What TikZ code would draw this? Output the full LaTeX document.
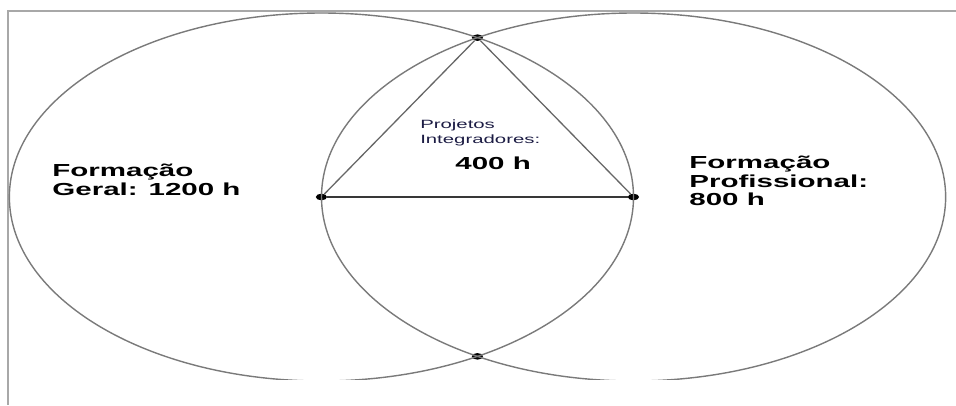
\documentclass[tikz,border=0pt]{standalone}
\usepackage{fontspec}
\setmainfont{Liberation Sans}
\usetikzlibrary{calc}
\definecolor{Rim}{HTML}{7A7A7A}
\definecolor{Edge}{HTML}{666666}
\definecolor{Base}{HTML}{383838}
\definecolor{Frame}{HTML}{A8A8A8}
\definecolor{Navy}{HTML}{1C1C44}

\begin{document}
\begin{tikzpicture}[x=1pt,y=-1pt,xscale=1.696,
  every node/.style={transform shape},
  dot/.style={circle,fill=black,inner sep=0pt,minimum size=6.6pt},
  rim/.style={Rim,line width=1.4pt},
  side/.style={Edge,line width=1.3pt},
  big/.style={font=\bfseries\fontsize{17.4}{18.4}\selectfont,align=left,anchor=base west,inner sep=0pt},
  small/.style={font=\fontsize{12}{14.5}\selectfont,text=Navy,align=left,anchor=base west,inner sep=0pt}]
  \useasboundingbox (0,0) rectangle (563.68,405);
  \draw[Frame,line width=1.5pt] (563.68,11) -- (4.72,11) -- (4.72,405);

  % centres and crossing points
  \node[dot] (geralc) at (189.5,197) {};
  \node[dot] (profc) at (373.5,197) {};
  \node[dot] (topx) at (281.5,37.65) {};
  \node[dot] (botx) at (281.5,356.35) {};

  \begin{scope}
    \clip (0,11) rectangle (563.68,379);
    \draw[rim] (geralc.center) circle[radius=184pt];
    \draw[rim] (profc.center) circle[radius=184pt];
  \end{scope}

  \draw[side] (geralc) -- (topx) -- (profc);
  \draw[Base,line width=1.5pt] (geralc) -- (profc);

  % base anchor sits on the last line
  \node[big] (geral) at (30.7,195) {Formação\\Geral: 1200 h};
  \node[big] (prof) at (406.3,205.5) {Formação\\Profissional:\\800 h};
  \node[small] (proj) at (247.6,143) {Projetos\\Integradores:};
  \node[big] (horas) at (268.3,169.5) {400 h};
\end{tikzpicture}
\end{document}
